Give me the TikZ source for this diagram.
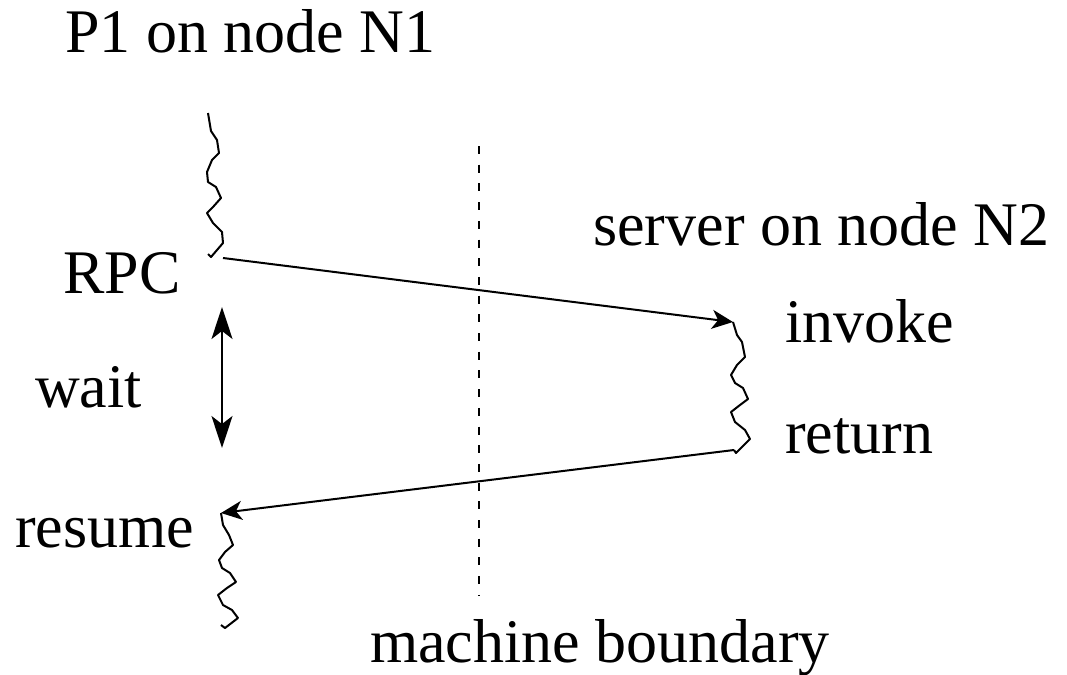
\documentclass[tikz,border=0pt]{standalone}
\usepackage{fontspec}
\setmainfont{Liberation Serif}
\usetikzlibrary{arrows.meta}
\begin{document}
\begin{tikzpicture}[x=1pt,y=-1pt,
  lbl/.style={anchor=base west,inner sep=0pt,font=\fontsize{62}{72}\selectfont},
  thread/.style={line width=2pt,line join=round},
  msg/.style={line width=2pt,-{Stealth[length=21pt,width=19pt,inset=6pt]}},
  span/.style={line width=2pt,{Stealth[length=32pt,width=21pt,inset=8pt]}-{Stealth[length=32pt,width=21pt,inset=8pt]}},
  boundary/.style={line width=2pt,dash pattern=on 8pt off 10.7pt}]
\useasboundingbox (0,0) rectangle (1067,674);

% labels
\node[lbl] (p1)     at (65,53)   {P1 on node N1};
\node[lbl] (server) at (593,245) {server on node N2};
\node[lbl] (rpclbl) at (63,293)  {RPC};
\node[lbl] (wait)   at (35,407)  {wait};
\node[lbl] (invlbl) at (785,342) {invoke};
\node[lbl] (retlbl) at (785,453) {return};
\node[lbl] (reslbl) at (15,547)  {resume};
\node[lbl] (mb)     at (370,662) {machine boundary};

% end points of the messages
\coordinate (rpc) at (223,258);
\coordinate (inv) at (733,322);
\coordinate (ret) at (734,450);
\coordinate (res) at (221,513);
\coordinate (waittop) at (222,307);
\coordinate (waitbot) at (222,448);
\coordinate (bdtop) at (479,146);
\coordinate (bdbot) at (479,595);

% execution of P1 before the call
\draw[thread] (208,113) -- (211,131) -- (217,140) -- (219,153) -- (212,160)
  -- (207,172) -- (208,182) -- (216,187) -- (221,198) -- (213,207) -- (207,213)
  -- (213,223) -- (222,232) -- (223,243) -- (211,257) -- (208,254);

% execution of the server
\draw[thread] (inv) -- (737,335) -- (742,342) -- (745,357) -- (737,365)
  -- (731,375) -- (735,383) -- (743,388) -- (748,399) -- (740,405) -- (731,412)
  -- (735,422) -- (745,430) -- (750,439) -- (736,453) -- (ret);

% execution of P1 after the reply
\draw[thread] (res) -- (223,525) -- (229,535) -- (233,545) -- (225,552)
  -- (219,560) -- (222,568) -- (230,573) -- (236,582) -- (227,588) -- (218,595)
  -- (223,605) -- (232,610) -- (238,618) -- (225,628) -- (221,625);

% machine boundary
\draw[boundary] (bdtop) -- (bdbot);

% messages
\draw[msg] (rpc) -- (inv);
\draw[msg] (ret) -- (res);

% waiting period
\draw[span] (waittop) -- (waitbot);
\end{tikzpicture}
\end{document}
